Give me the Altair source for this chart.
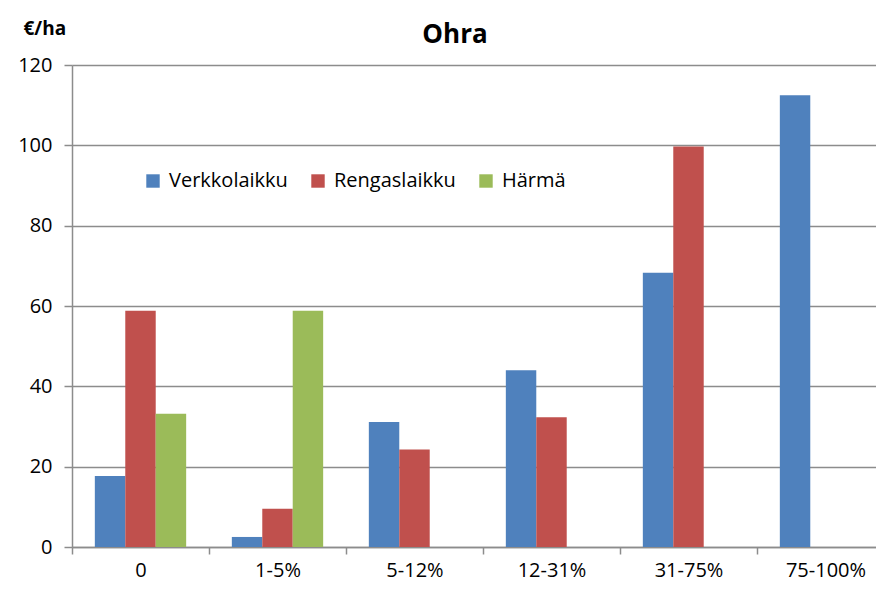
import altair as alt
import pandas as pd

categories = ["0", "1-5%", "5-12%", "12-31%", "31-75%", "75-100%"]
series = ["Verkkolaikku", "Rengaslaikku", "Härmä"]
verkkolaikku = [17.7, 2.5, 31.1, 44.0, 68.3, 112.5]
rengaslaikku = [58.8, 9.5, 24.3, 32.3, 99.7, 0]
harma = [33.2, 58.8, 0, 0, 0, 0]
colors = ["#4F81BD", "#C0504D", "#9BBB59"]
y_ticks = [0, 20, 40, 60, 80, 100, 120]

rows = []
for name, vals in zip(series, [verkkolaikku, rengaslaikku, harma]):
    for c, v in zip(categories, vals):
        rows.append({"kategoria": c, "sarja": name, "arvo": v})
df = pd.DataFrame(rows)

FONT = "Open Sans"
GRID = "#8c8c8c"

chart = alt.Chart(df).mark_bar().encode(
    x=alt.X(
        "kategoria:N",
        sort=categories,
        scale=alt.Scale(range=[0, 822], paddingInner=0, paddingOuter=0),
        axis=alt.Axis(
            title=None, labelAngle=0, tickBand="extent", grid=False,
            labelFontSize=20, labelFont=FONT, labelColor="black",
            labelPadding=6, tickSize=7, tickColor=GRID, tickWidth=1.5,
            domainColor=GRID, domainWidth=1.5,
        ),
    ),
    xOffset=alt.XOffset(
        "sarja:N", sort=series,
        scale=alt.Scale(domain=series, paddingOuter=0.75, paddingInner=0),
    ),
    y=alt.Y(
        "arvo:Q",
        scale=alt.Scale(domain=[0, 120], nice=False),
        axis=alt.Axis(
            values=y_ticks, title="€/ha", titleAngle=0, titleAlign="left",
            titleBaseline="alphabetic", titleX=-49, titleY=-31,
            titleFont=FONT, titleFontSize=19, titleFontWeight="bold", titleColor="black",
            labelFontSize=20, labelFont=FONT, labelColor="black", labelPadding=12,
            tickSize=8, tickColor=GRID, tickWidth=1.5,
            gridColor=GRID, gridWidth=1.5, domainColor=GRID, domainWidth=1.5,
        ),
    ),
    color=alt.Color(
        "sarja:N",
        scale=alt.Scale(domain=series, range=colors),
        legend=alt.Legend(
            title=None, orient="none", legendX=71, legendY=106, direction="horizontal",
            symbolType="square", symbolSize=180, symbolStrokeWidth=0,
            labelFont=FONT, labelFontSize=20, labelColor="black",
            labelOffset=6, columnPadding=20,
        ),
    ),
).properties(
    width=804,
    height=482,
    autosize=alt.AutoSizeParams(type="none"),
    padding={"left": 64, "top": 57, "right": 0, "bottom": 34},
    title=alt.TitleParams(
        "Ohra", font=FONT, fontSize=26, fontWeight="bold", color="black",
        anchor="middle", frame="group", baseline="alphabetic", offset=0, dx=-19, dy=50,
    ),
).configure_view(stroke=None)

chart.save("out.html", embed_options={"renderer": "svg", "actions": False})
